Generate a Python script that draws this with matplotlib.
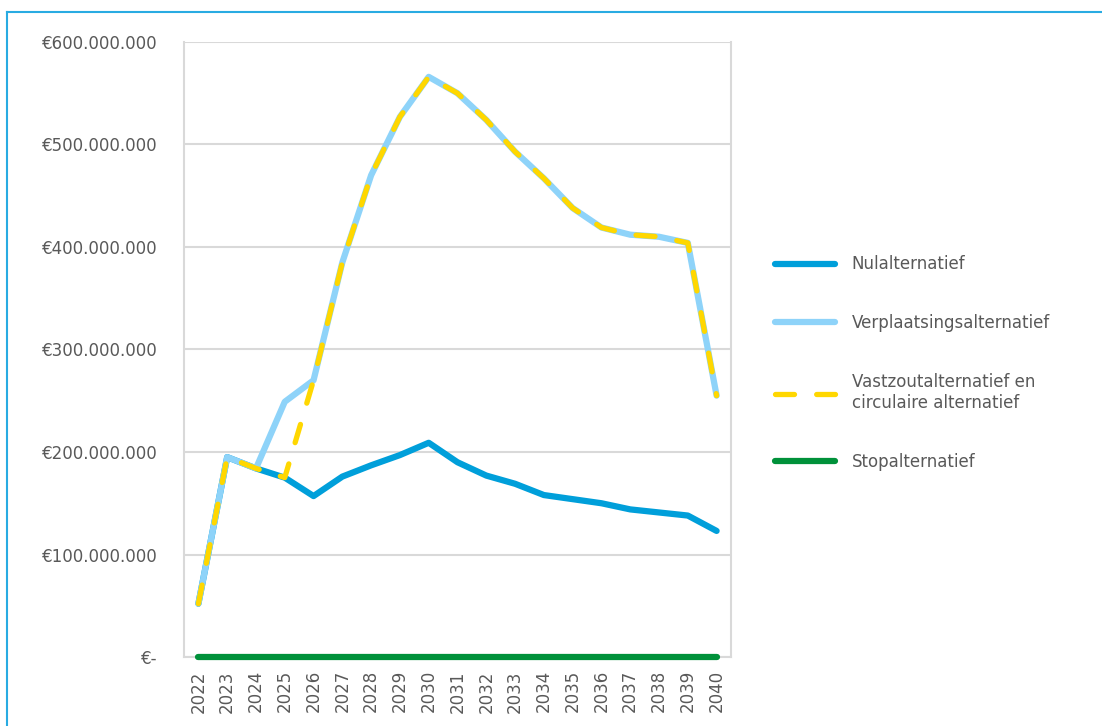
import matplotlib.pyplot as plt
from matplotlib.lines import Line2D

years = [str(y) for y in range(2022, 2041)]

nul = [52, 195, 184, 175, 157, 176, 187, 197, 209, 190, 177, 169, 158, 154, 150,
       144, 141, 138, 123]
verplaatsing = [52, 195, 184, 249, 270, 385, 470, 527, 566, 550, 524, 493, 467,
                438, 419, 412, 410, 404, 255]
vastzout = [52, 195, 184, 175, 270, 385, 470, 527, 566, 550, 524, 493, 467,
            438, 419, 412, 410, 404, 255]
stop = [0] * 19

ytick_vals = [0, 100, 200, 300, 400, 500, 600]
ytick_labels = ["€-", "€100.000.000", "€200.000.000", "€300.000.000",
                "€400.000.000", "€500.000.000", "€600.000.000"]

grey = "#595959"
grid = "#D9D9D9"

fig = plt.figure(figsize=(11.02, 7.26), dpi=100)
ax = fig.add_axes([184 / 1102, 1 - 657 / 726, (731 - 184) / 1102, (657 - 42) / 726])

x = range(len(years))
ax.plot(x, nul, color="#009FDA", lw=4.5, label="Nulalternatief",
        solid_capstyle="round", zorder=3)
ax.plot(x, verplaatsing, color="#8ED3F9", lw=4.5, label="Verplaatsingsalternatief",
        solid_capstyle="round", zorder=3)
ax.plot(x, vastzout, color="#FFD700", lw=3.8, dashes=(3.6, 4.2), dash_capstyle="round",
        label="Vastzoutalternatief en\ncirculaire alternatief", zorder=3)
ax.plot(x, stop, color="#00913A", lw=4.5, label="Stopalternatief",
        solid_capstyle="round", clip_on=False, zorder=4)

ax.set_xlim(-0.5, len(years) - 0.5)
ax.set_ylim(0, 600)
ax.set_xticks(list(x))
ax.set_xticklabels(years, rotation=90, fontsize=12, color=grey)
ax.set_yticks(ytick_vals)
ax.set_yticklabels(ytick_labels, fontsize=12, color=grey)
ax.tick_params(axis="both", length=0)
ax.tick_params(axis="y", pad=19)
ax.tick_params(axis="x", pad=9.5)

ax.yaxis.grid(True, color=grid, lw=1.5)
ax.set_axisbelow(True)
for side in ["left", "right", "bottom"]:
    ax.spines[side].set_color(grid)
    ax.spines[side].set_linewidth(1.5)
ax.spines["top"].set_visible(False)

leg = fig.legend(loc="center left", bbox_to_anchor=(775 / 1102, 1 - 363 / 726),
                 frameon=False, fontsize=12, handlelength=3.6, handletextpad=1.0,
                 borderpad=0, borderaxespad=0, labelspacing=2.45)
for t in leg.get_texts():
    t.set_color(grey)

# outer frame of the figure
fig.add_artist(Line2D([7 / 1102, 1], [1 - 12 / 726, 1 - 12 / 726],
                      transform=fig.transFigure, color="#29ABE2", lw=1.5))
fig.add_artist(Line2D([7 / 1102, 7 / 1102], [0, 1 - 12 / 726],
                      transform=fig.transFigure, color="#29ABE2", lw=1.5))

fig.savefig("out.png", dpi=100)
